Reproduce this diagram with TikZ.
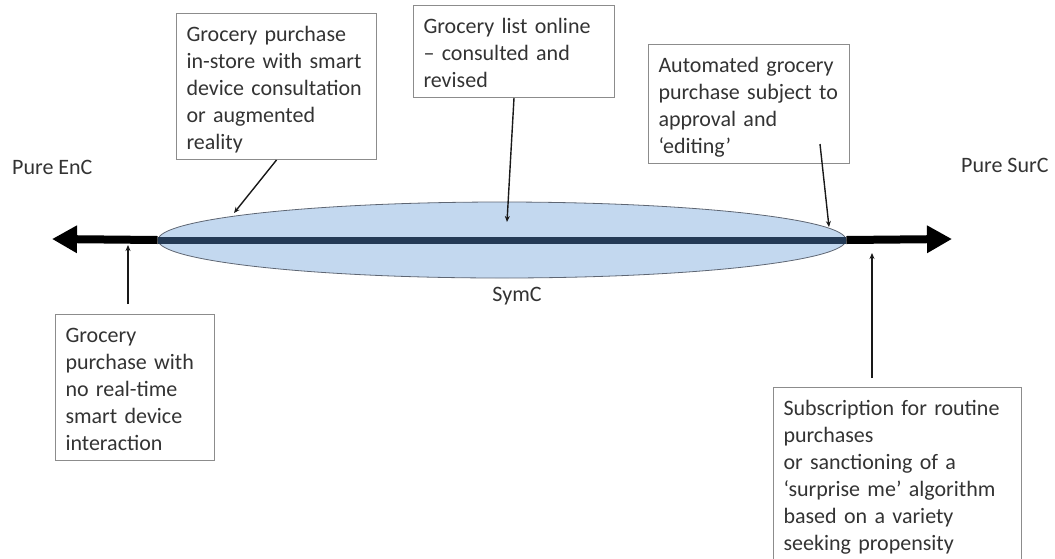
\documentclass[tikz,border=0pt]{standalone}
\usepackage{fontspec}
\setmainfont{Carlito}
\usetikzlibrary{arrows.meta,shapes.geometric}
\definecolor{boxline}{HTML}{8C8C8C}
\definecolor{txt}{HTML}{333333}
\definecolor{ellfill}{HTML}{C3D8EF}
\definecolor{ellline}{HTML}{5E6673}
\definecolor{navy}{HTML}{243A55}
\tikzset{
  lbl/.style={draw=boxline, line width=1pt, anchor=north west, inner xsep=10pt, inner ysep=5.5pt,
    align=left, text=txt, execute at begin node=\rule{0pt}{22pt}, execute at end node=\rule[-5pt]{0pt}{5pt}},
  plain/.style={text=txt, inner sep=0pt},
  mainarrow/.style={line width=8pt, -{Triangle[length=25pt,width=26pt]}},
  pointer/.style={line width=1.4pt, -{Stealth[length=6pt,width=5pt]}, black!90}
}
\begin{document}
\begin{tikzpicture}[x=1pt,y=-1pt,font=\fontsize{22}{27}\selectfont]
\useasboundingbox (0,0) rectangle (1055,558);
\clip (0,0) rectangle (1055,558);
% ellipse and axis
\node[ellipse, minimum width=688pt, minimum height=76pt, inner sep=0pt, fill=ellfill, draw=ellline, line width=0.8pt] (sym) at (502,240) {};
\coordinate (Ltip) at (52,239);
\coordinate (Rtip) at (952,239);
\draw[mainarrow] (sym.west) -- (Ltip);
\draw[mainarrow] (sym.east) -- (Rtip);
\draw[navy, line width=7pt] (sym.west) -- (sym.east);
% end labels
\node[plain, anchor=west] (enc) at (12,167) {Pure EnC};
\node[plain, anchor=west] (surc) at (961,165) {Pure SurC};
\node[plain] (symc) at (517,296) {SymC};
% boxes
\node[lbl, text width=180pt] (b1) at (176,13) {Grocery purchase\\in-store with smart\\device consultation\\or augmented\\reality};
\node[lbl, text width=181pt] (b2) at (413,5) {Grocery list online\\– consulted and\\revised};
\node[lbl, text width=181pt] (b3) at (648,44) {Automated grocery\\purchase subject to\\approval and\\‘editing’};
\node[lbl, text width=139pt] (b4) at (55,314) {Grocery\\purchase with\\no real-time\\smart device\\interaction};
\node[lbl, text width=228pt] (b5) at (773,387) {Subscription for routine\\purchases\\or sanctioning of a\\‘surprise me’ algorithm\\based on a variety\\seeking propensity};
% pointer coordinates
\coordinate (p1) at (234,213);
\coordinate (p2) at (507,222);
\coordinate (s3) at (820,144);
\coordinate (p3) at (829,227);
\coordinate (s4) at (128,304);
\coordinate (p4) at (128,245);
\coordinate (s5) at (872,378);
\coordinate (p5) at (872,253);
\draw[pointer] (b1.south) -- (p1);
\draw[pointer] (b2.south) -- (p2);
\draw[pointer] (s3) -- (p3);
\draw[pointer] (s4) -- (p4);
\draw[pointer] (s5) -- (p5);
\end{tikzpicture}
\end{document}
